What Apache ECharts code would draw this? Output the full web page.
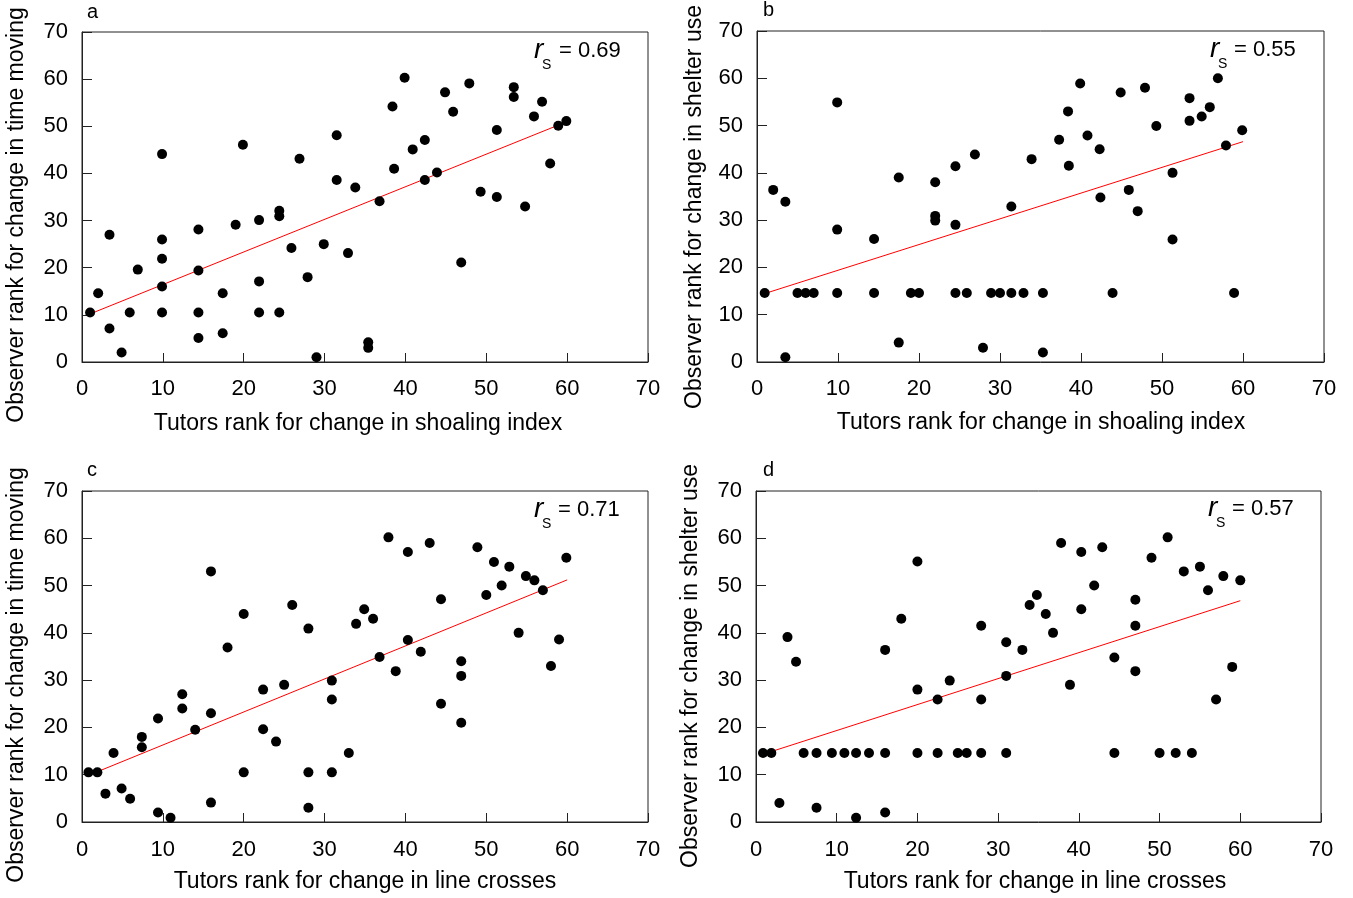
<!DOCTYPE html>
<html>
<head>
<meta charset="utf-8">
<script src="https://cdn.jsdelivr.net/npm/echarts@6/dist/echarts.min.js"></script>
<style>
  html, body { margin: 0; padding: 0; background: #fff; }
  #chart { width: 1353px; height: 898px; }
</style>
</head>
<body>
<div id="chart"></div>
<script>
// Ranks: [tutor rank, observer rank]
const panelA = [[1,10.5],[2,14.6],[3.4,27],[3.4,7.1],[4.9,2],[5.9,10.5],[6.9,19.6],[9.9,44.1],[9.9,26],[9.9,21.9],[9.9,16],[9.9,10.5],[14.4,28.1],[14.4,19.4],[14.4,10.5],[14.4,5.1],[17.4,14.6],[17.4,6.1],[19,29.1],[19.9,46.1],[21.9,30.1],[21.9,17.1],[21.9,10.5],[24.4,32.1],[24.4,30.9],[24.4,10.5],[25.9,24.2],[26.9,43.1],[27.9,18],[29,1],[29.9,25],[31.5,48.1],[31.5,38.6],[32.9,23.1],[33.8,37],[35.4,4.2],[35.4,3],[36.8,34.1],[38.4,54.2],[38.6,41],[39.9,60.3],[40.9,45.1],[42.4,47.1],[42.4,38.6],[43.9,40.2],[44.9,57.2],[45.9,53.1],[46.9,21.1],[47.9,59.1],[49.3,36.1],[51.3,49.2],[51.3,35],[53.4,58.3],[53.4,56.2],[54.8,33],[55.9,52.1],[56.9,55.2],[57.9,42.1],[58.9,50.1],[59.9,51.1]];
const panelB = [[0.95,14.6],[2,36.4],[3.5,33.9],[3.5,1],[5,14.6],[6,14.6],[7,14.6],[9.9,54.9],[9.9,28],[9.9,14.6],[14.45,26],[14.45,14.6],[17.5,39],[17.5,4.1],[19,14.6],[20,14.6],[22,38],[22,30.9],[22,29.9],[24.5,41.4],[24.5,29],[24.5,14.6],[25.9,14.6],[26.9,43.9],[27.9,3],[28.9,14.6],[30,14.6],[31.4,32.9],[31.4,14.6],[32.9,14.6],[33.9,42.9],[35.3,14.6],[35.3,2],[37.3,47],[38.4,53],[38.5,41.5],[39.9,58.9],[40.8,47.9],[42.3,45],[42.4,34.8],[43.9,14.6],[44.9,57],[45.9,36.4],[47,31.9],[47.9,58],[49.3,49.9],[51.3,40],[51.3,25.9],[53.4,55.8],[53.4,51],[54.9,51.9],[55.9,53.9],[56.9,60],[57.9,45.8],[58.9,14.6],[59.9,49]];
const panelC = [[0.8,10.5],[1.9,10.5],[2.9,6],[3.9,14.6],[4.9,7.1],[5.95,4.9],[7.4,18],[7.4,15.8],[9.4,21.9],[9.4,2],[10.95,0.9],[12.4,27],[12.4,24],[14,19.5],[15.95,53],[15.95,23],[15.95,4.1],[18,36.9],[20,44],[20,10.5],[22.4,28],[22.4,19.6],[24,17],[25,29],[26,45.9],[28,40.9],[28,10.5],[28,3],[30.9,29.9],[30.9,25.9],[30.9,10.5],[33,14.6],[33.9,41.9],[34.9,45],[36,43],[36.8,34.9],[37.9,60.2],[38.8,31.9],[40.3,57.1],[40.3,38.5],[41.9,36],[43,59],[44.4,47.1],[44.4,25],[46.9,34],[46.9,30.9],[46.9,21],[48.9,58.1],[50,48],[50.95,55],[51.9,50],[52.85,54],[54,40],[54.9,52],[55.95,51.1],[57,49],[58,33],[59,38.6],[59.9,55.9]];
const panelD = [[0.87,14.6],[1.9,14.6],[2.9,4],[3.9,39.1],[4.96,33.9],[5.9,14.6],[7.5,14.6],[7.5,3],[9.4,14.6],[10.95,14.6],[12.4,14.6],[12.4,0.9],[14,14.6],[16,14.6],[16,36.4],[16,2],[18,43],[20,55.1],[20,28],[20,14.6],[22.5,25.9],[22.5,14.6],[24,29.9],[25,14.6],[26.1,14.6],[27.9,41.5],[27.9,25.9],[27.9,14.6],[31,38],[31,30.9],[31,14.6],[33,36.4],[33.9,45.9],[34.8,48],[35.9,44],[36.8,40],[37.8,59],[38.9,29],[40.3,57.1],[40.3,45],[41.9,50],[42.9,58.1],[44.4,34.8],[44.4,14.6],[47,47],[47,41.5],[47,31.9],[49,55.9],[50,14.6],[51,60.2],[52,14.6],[53,53],[54,14.6],[55,54],[56,49],[57,25.9],[57.9,52],[59,32.8],[60,51.1]];

// fitted lines as drawn (end points)
const fitA = [[1,10.2],[60,51.0]];
const fitB = [[1,14.5],[60,46.6]];
const fitC = [[1,10.0],[60,51.2]];
const fitD = [[1,14.4],[60,46.8]];

const letters = ['a', 'b', 'c', 'd'];
const rsValues = ['0.69', '0.55', '0.71', '0.57'];
const xTitles = ['Tutors rank for change in shoaling index', 'Tutors rank for change in shoaling index',
                 'Tutors rank for change in line crosses', 'Tutors rank for change in line crosses'];
const yTitles = ['Observer rank for change in time moving', 'Observer rank for change in shelter use',
                 'Observer rank for change in time moving', 'Observer rank for change in shelter use'];

const FONT = '"Liberation Sans", Arial, sans-serif';
const INK = '#000';
const FRAME = '#222';

// panel placement
const layout = [
  { left: 82,  top: 32,  width: 566, height: 330, xMargin: 16, yPad: 0, letter: [87, 12],  rs: [534, 559, 51],  xt: [358, 424],  yt: [17, 215] },
  { left: 757, top: 31,  width: 567, height: 331, xMargin: 16, yPad: 9, letter: [763, 10], rs: [1210, 1234, 50], xt: [1041, 423], yt: [695, 207] },
  { left: 82,  top: 491, width: 566, height: 331, xMargin: 17, yPad: 0, letter: [87, 470], rs: [534, 558, 510], xt: [365, 882],  yt: [17, 675] },
  { left: 756, top: 491, width: 565, height: 331, xMargin: 17, yPad: 0, letter: [763, 470], rs: [1208, 1232, 509], xt: [1035, 882], yt: [691, 666] }
];

const pointSets = [panelA, panelB, panelC, panelD];
const fitSets = [fitA, fitB, fitC, fitD];

const chart = echarts.init(document.getElementById('chart'), null, { renderer: 'canvas' });

const grids = layout.map(l => ({
  left: l.left, top: l.top, width: l.width, height: l.height,
  show: true, borderColor: FRAME, borderWidth: 1, backgroundColor: '#fff'
}));

const xAxes = layout.map((l, i) => ({
  type: 'value', gridIndex: i, min: 0, max: 70, interval: 10,
  axisLine: { show: true, onZero: false, lineStyle: { color: FRAME, width: 1 } },
  axisTick: { show: true, inside: true, length: 9, lineStyle: { color: FRAME } },
  splitLine: { show: false },
  axisLabel: { fontSize: 22, fontFamily: FONT, color: INK, margin: l.xMargin }
}));

const yAxes = layout.map((l, i) => ({
  type: 'value', gridIndex: i, min: 0, max: 70, interval: 10,
  axisLine: { show: true, onZero: false, lineStyle: { color: FRAME, width: 1 } },
  axisTick: { show: true, inside: true, length: 10, lineStyle: { color: FRAME } },
  splitLine: { show: false },
  axisLabel: { fontSize: 22, fontFamily: FONT, color: INK, margin: 14, padding: [0, 0, l.yPad, 0] }
}));

const series = [];
pointSets.forEach((pts, i) => {
  series.push({
    type: 'line', xAxisIndex: i, yAxisIndex: i, data: fitSets[i],
    symbol: 'none', silent: true, z: 1,
    lineStyle: { color: '#ff0000', width: 1 }
  });
  series.push({
    type: 'scatter', xAxisIndex: i, yAxisIndex: i, data: pts,
    symbolSize: 10, z: 2,
    itemStyle: { color: '#000', opacity: 1 }
  });
});

const graphics = [];
layout.forEach((l, i) => {
  graphics.push({
    type: 'text', x: l.letter[0], y: l.letter[1],
    style: { text: letters[i], font: '20px ' + FONT, fill: INK, textVerticalAlign: 'middle' }
  });
  graphics.push({
    type: 'text', x: l.rs[0], y: l.rs[2] - 1,
    style: { text: 'r', font: 'italic 28px ' + FONT, fill: INK, textVerticalAlign: 'middle' }
  });
  graphics.push({
    type: 'text', x: l.rs[0] + 8, y: l.rs[2] + 14,
    style: { text: 'S', font: '14px ' + FONT, fill: INK, textVerticalAlign: 'middle' }
  });
  graphics.push({
    type: 'text', x: l.rs[1], y: l.rs[2],
    style: { text: '= ' + rsValues[i], font: '22px ' + FONT, fill: INK, textVerticalAlign: 'middle' }
  });
  graphics.push({
    type: 'text', x: l.xt[0], y: l.xt[1],
    style: { text: xTitles[i], font: '23px ' + FONT, fill: INK, textAlign: 'center', textVerticalAlign: 'middle' }
  });
  graphics.push({
    type: 'text', x: l.yt[0], y: l.yt[1], rotation: Math.PI / 2,
    style: { text: yTitles[i], font: '23px ' + FONT, fill: INK, textAlign: 'center', textVerticalAlign: 'middle' }
  });
});

chart.setOption({
  animation: false,
  backgroundColor: '#fff',
  grid: grids,
  xAxis: xAxes,
  yAxis: yAxes,
  series: series,
  graphic: graphics
});
</script>
</body>
</html>
